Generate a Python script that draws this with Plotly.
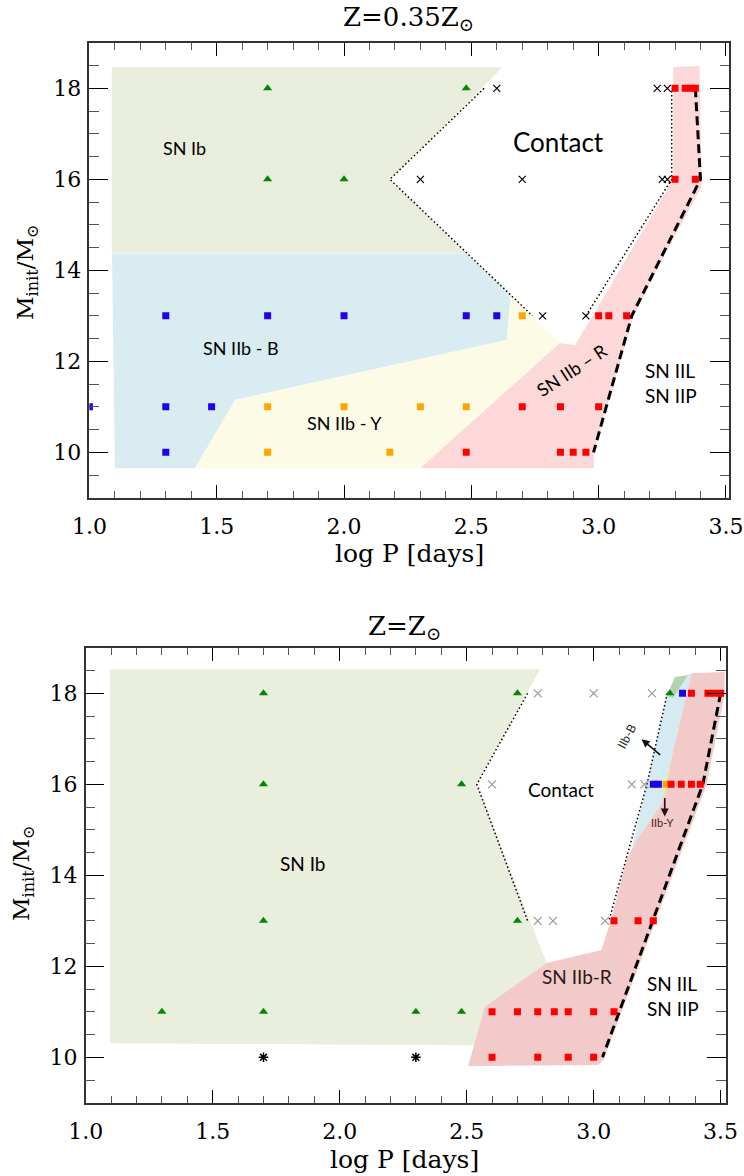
import plotly.graph_objects as go

# ---------------- TOP PANEL DATA (Z = 0.35 Zsun) ----------------
top_tri_x = [1.70, 2.48, 1.70, 2.00]
top_tri_y = [18, 18, 16, 16]
top_cross_x = [2.60, 3.23, 3.27, 2.30, 2.70, 3.25, 3.27, 2.78, 2.95]
top_cross_y = [18, 18, 18, 16, 16, 16, 16, 13, 13]
top_blue_x = [1.30, 1.70, 2.00, 2.48, 2.60, 1.00, 1.30, 1.48, 1.30]
top_blue_y = [13, 13, 13, 13, 13, 11, 11, 11, 10]
top_orange_x = [2.70, 1.70, 2.00, 2.30, 2.48, 1.70, 2.18]
top_orange_y = [13, 11, 11, 11, 11, 10, 10]
top_red_x = [3.30, 3.34, 3.36, 3.38, 3.30, 3.38, 3.00, 3.04, 3.11, 2.70, 2.85, 3.00, 2.48, 2.85, 2.90, 2.95]
top_red_y = [18, 18, 18, 18, 16, 16, 13, 13, 13, 11, 11, 11, 10, 10, 10, 10]

top_ib_x = [1.088, 2.623, 2.181, 2.483, 1.088]
top_ib_y = [18.46, 18.46, 16.0, 14.37, 14.37]
top_iibB_x = [1.089, 2.483, 2.655, 2.639, 1.572, 1.415, 1.10]
top_iibB_y = [14.37, 14.37, 13.46, 12.47, 11.15, 9.65, 9.65]
top_iibY_x = [2.655, 2.737, 2.848, 2.299, 1.415, 1.572, 2.639]
top_iibY_y = [13.46, 13.02, 12.40, 9.65, 9.65, 11.15, 12.47]
top_iibR_x = [3.293, 3.396, 3.405, 3.249, 3.139, 2.982, 2.982, 2.299, 2.848, 2.907, 2.979, 3.293]
top_iibR_y = [18.47, 18.49, 15.84, 14.23, 13.02, 10.01, 9.65, 9.65, 12.40, 12.36, 13.02, 16.0]

top_dotL_x = [2.55, 2.18, 2.74]
top_dotL_y = [18.0, 16.0, 13.0]
top_dotR_x = [2.95, 3.287, 3.287]
top_dotR_y = [13.0, 16.0, 18.0]
top_dash_x = [3.38, 3.40, 3.13, 2.98]
top_dash_y = [18.0, 16.0, 13.0, 10.0]

# ---------------- BOTTOM PANEL DATA (Z = Zsun) ----------------
bot_tri_x = [1.70, 2.70, 3.30, 1.70, 2.48, 1.70, 2.70, 1.30, 1.70, 2.30, 2.48]
bot_tri_y = [18, 18, 18, 16, 16, 13, 13, 11, 11, 11, 11]
bot_cross_x = [2.78, 3.00, 3.23, 2.60, 3.15, 3.20, 2.78, 2.84, 3.045]
bot_cross_y = [18, 18, 18, 16, 16, 16, 13, 13, 13]
bot_star_x = [1.70, 2.30]
bot_star_y = [10, 10]
bot_blue_x = [3.35, 3.235, 3.255]
bot_blue_y = [18, 16, 16]
bot_orange_x = [3.285]
bot_orange_y = [16]
bot_red_x = [3.385, 3.45, 3.475, 3.50, 3.305, 3.345, 3.385, 3.42, 3.08, 3.175, 3.235,
             2.60, 2.70, 2.78, 2.845, 2.90, 3.00, 3.08, 2.60, 2.78, 2.90, 3.00]
bot_red_y = [18, 18, 18, 18, 16, 16, 16, 16, 13, 13, 13,
             11, 11, 11, 11, 11, 11, 11, 10, 10, 10, 10]

bot_ib_x = [1.096, 2.789, 2.539, 2.815, 2.70, 1.096]
bot_ib_y = [18.53, 18.53, 16.0, 12.07, 10.26, 10.31]
bot_iibB_x = [3.287, 3.313, 3.372, 3.386, 3.307, 3.287, 3.26, 3.15, 3.21]
bot_iibB_y = [17.93, 17.89, 18.40, 18.44, 16.6, 15.8, 15.5, 14.6, 16.0]
bot_iibY_x = [3.307, 3.287, 3.26, 3.16, 3.22, 3.27, 3.29]
bot_iibY_y = [16.6, 15.8, 15.5, 14.7, 15.2, 15.6, 16.2]
bot_patch_x = [3.287, 3.320, 3.372, 3.313]
bot_patch_y = [17.93, 18.36, 18.40, 17.89]
bot_iibR_x = [3.386, 3.516, 3.516, 3.445, 3.04, 3.018, 2.506, 2.572, 2.815, 3.031, 3.07, 3.13, 3.17, 3.26, 3.287, 3.307]
bot_iibR_y = [18.44, 18.47, 18.0, 16.0, 9.95, 9.83, 9.81, 11.11, 12.07, 12.36, 13.05, 14.34, 14.78, 15.5, 15.8, 16.6]

bot_dotL_x = [2.74, 2.54, 2.74]
bot_dotL_y = [18.0, 16.0, 13.0]
bot_dotR_x = [3.29, 3.21, 3.06]
bot_dotR_y = [18.0, 16.0, 13.0]
bot_dash_x = [3.50, 3.43, 3.035]
bot_dash_y = [18.0, 16.0, 10.0]

x_ticks = [1.0, 1.5, 2.0, 2.5, 3.0, 3.5]
y_ticks = [10, 12, 14, 16, 18]

GREEN_T = "#008800"
BLUE = "#2200ee"
ORANGE = "#ffa500"
RED = "#ff0000"

W, H = 744, 1176


def px(sx):
    return sx / W


def py(sy):
    return 1 - sy / H


fig = go.Figure()


def region(x, y, color, xa, ya):
    fig.add_trace(go.Scatter(x=x, y=y, fill="toself", fillcolor=color, mode="lines",
                             line=dict(width=0), hoverinfo="skip", showlegend=False,
                             xaxis=xa, yaxis=ya))


def line(x, y, dash, width, xa, ya):
    fig.add_trace(go.Scatter(x=x, y=y, mode="lines", line=dict(color="black", width=width, dash=dash),
                             showlegend=False, xaxis=xa, yaxis=ya))


def pts(x, y, symbol, color, size, xa, ya, lw=0, lc=None):
    fig.add_trace(go.Scatter(x=x, y=y, mode="markers",
                             marker=dict(symbol=symbol, color=color, size=size,
                                         line=dict(width=lw, color=lc or color)),
                             showlegend=False, xaxis=xa, yaxis=ya))


# top panel
region(top_ib_x, top_ib_y, "#e9eedc", "x", "y")
region(top_iibB_x, top_iibB_y, "#d9ecf2", "x", "y")
region(top_iibY_x, top_iibY_y, "#fcfce6", "x", "y")
region(top_iibR_x, top_iibR_y, "#fdd8d8", "x", "y")
line(top_dotL_x, top_dotL_y, "1.5px,2.5px", 1.5, "x", "y")
line(top_dotR_x, top_dotR_y, "1.5px,2.5px", 1.5, "x", "y")
line(top_dash_x, top_dash_y, "9px,5px", 3, "x", "y")
pts(top_tri_x, top_tri_y, "triangle-up", GREEN_T, 8, "x", "y")
pts(top_cross_x, top_cross_y, "x-thin", "black", 7, "x", "y", lw=1.2, lc="black")
pts(top_blue_x, top_blue_y, "square", BLUE, 7, "x", "y")
pts(top_orange_x, top_orange_y, "square", ORANGE, 7, "x", "y")
pts(top_red_x, top_red_y, "square", RED, 7, "x", "y")

# bottom panel
region(bot_ib_x, bot_ib_y, "#e9eedd", "x2", "y2")
region(bot_iibB_x, bot_iibB_y, "#d5ebf2", "x2", "y2")
region(bot_iibY_x, bot_iibY_y, "#efe58a", "x2", "y2")
region(bot_patch_x, bot_patch_y, "#b3d3b0", "x2", "y2")
region(bot_iibR_x, bot_iibR_y, "#f3caca", "x2", "y2")
line(bot_dotL_x, bot_dotL_y, "1.5px,2.5px", 1.5, "x2", "y2")
line(bot_dotR_x, bot_dotR_y, "1.5px,2.5px", 1.5, "x2", "y2")
line(bot_dash_x, bot_dash_y, "9px,5px", 3, "x2", "y2")
pts(bot_tri_x, bot_tri_y, "triangle-up", GREEN_T, 8, "x2", "y2")
pts(bot_cross_x, bot_cross_y, "x-thin", "#999999", 8, "x2", "y2", lw=1.2, lc="#999999")
pts(bot_star_x, bot_star_y, "asterisk", "black", 8, "x2", "y2", lw=1.5, lc="black")
pts(bot_blue_x, bot_blue_y, "square", BLUE, 7, "x2", "y2")
pts(bot_orange_x, bot_orange_y, "square", ORANGE, 7, "x2", "y2")
pts(bot_red_x, bot_red_y, "square", RED, 7, "x2", "y2")

TICKFONT = dict(family="DejaVu Serif", size=22, color="black")


def xaxis_cfg(domain, rng, anchor):
    return dict(domain=domain, range=rng, anchor=anchor, automargin=False, tickmode="array",
                tickvals=x_ticks, ticktext=[f"{v:.1f}" for v in x_ticks], ticks="inside",
                ticklen=13, tickwidth=1.2, tickcolor="black", showline=True, linecolor="#333",
                linewidth=1.5, mirror="allticks", showgrid=False, zeroline=False,
                tickfont=TICKFONT, ticklabelstandoff=8,
                minor=dict(ticks="inside", ticklen=7, dtick=0.1, tick0=1.0, tickcolor="#555",
                           tickwidth=1, showgrid=False))


def yaxis_cfg(domain, anchor):
    return dict(domain=domain, range=[9, 19], anchor=anchor, automargin=False, tickmode="array",
                tickvals=y_ticks, ticks="inside", ticklen=19, tickwidth=1.2, tickcolor="black",
                showline=True, linecolor="#333", linewidth=1.5, mirror="allticks", showgrid=False,
                zeroline=False, tickfont=TICKFONT, ticklabelstandoff=2,
                minor=dict(ticks="inside", ticklen=9.5, dtick=0.5, tick0=9, tickcolor="#555",
                           tickwidth=1, showgrid=False))


fig.update_layout(
    template="none",
    width=W, height=H, autosize=False,
    margin=dict(l=0, r=0, t=0, b=0, autoexpand=False),
    paper_bgcolor="white", plot_bgcolor="white",
    showlegend=False, hovermode=False,
    xaxis=xaxis_cfg([px(89.4), px(729.0)], [1.0, 3.512], "y"),
    yaxis=yaxis_cfg([py(497.8), py(42.8)], "x"),
    xaxis2=xaxis_cfg([px(85.7), px(725.7)], [1.0, 3.52], "y2"),
    yaxis2=yaxis_cfg([py(1102.8), py(647.8)], "x2"),
)

SANS = "Lato"
ann = []


def txt(x, y, s, xref, yref, size=19, angle=0, color="black", family=SANS, xanchor="center", align="center"):
    ann.append(dict(x=x, y=y, xref=xref, yref=yref, text=s, showarrow=False, textangle=angle,
                    font=dict(family=family, size=size, color=color), xanchor=xanchor,
                    yanchor="middle", align=align))


# top panel labels
txt(1.375, 16.68, "SN Ib", "x", "y", 18)
txt(2.842, 16.83, "Contact", "x", "y", 26)
txt(1.595, 12.29, "SN IIb - B", "x", "y", 18)
txt(2.0, 10.64, "SN IIb - Y", "x", "y", 18)
txt(2.894, 11.81, "SN IIb – R", "x", "y", 18, angle=-33)
txt(3.176, 11.52, "SN IIL<br>SN IIP", "x", "y", 19, xanchor="left", align="left")

# bottom panel labels
txt(1.857, 14.26, "SN Ib", "x2", "y2", 19)
txt(2.87, 15.89, "Contact", "x2", "y2", 19)
txt(2.936, 11.77, "SN IIb-R", "x2", "y2", 19, color="#2a1a1a")
txt(3.202, 11.34, "SN IIL<br>SN IIP", "x2", "y2", 19, xanchor="left", align="left")
txt(3.13, 17.05, "IIb-B", "x2", "y2", 12, angle=-62, color="#222")
txt(3.272, 15.16, "IIb-Y", "x2", "y2", 11, color="#4a2020")

# arrows
ann.append(dict(x=3.189, y=16.99, ax=3.268, ay=16.62, xref="x2", yref="y2", axref="x2", ayref="y2",
                text="", showarrow=True, arrowhead=2, arrowsize=1, arrowwidth=1.6, arrowcolor="#111"))
ann.append(dict(x=3.28, y=15.29, ax=3.28, ay=15.73, xref="x2", yref="y2", axref="x2", ayref="y2",
                text="", showarrow=True, arrowhead=2, arrowsize=1, arrowwidth=1.6, arrowcolor="#2a1010"))

# titles and axis titles
SERIF = "DejaVu Serif"
txt(px(409), py(19), "Z=0.35Z<sub>⊙</sub>", "paper", "paper", 26, family=SERIF)
txt(px(405), py(627), "Z=Z<sub>⊙</sub>", "paper", "paper", 26, family=SERIF)
txt(px(410), py(553), "log P [days]", "paper", "paper", 25, family=SERIF)
txt(px(405), py(1159), "log P [days]", "paper", "paper", 25, family=SERIF)
txt(px(27), py(272), "M<sub>init</sub>/M<sub>⊙</sub>", "paper", "paper", 23, angle=-90, family=SERIF)
txt(px(23), py(873), "M<sub>init</sub>/M<sub>⊙</sub>", "paper", "paper", 23, angle=-90, family=SERIF)

fig.update_layout(annotations=ann)

fig.write_html("out.html", config={"displayModeBar": False},
               post_script="document.body.style.margin='0px';")
